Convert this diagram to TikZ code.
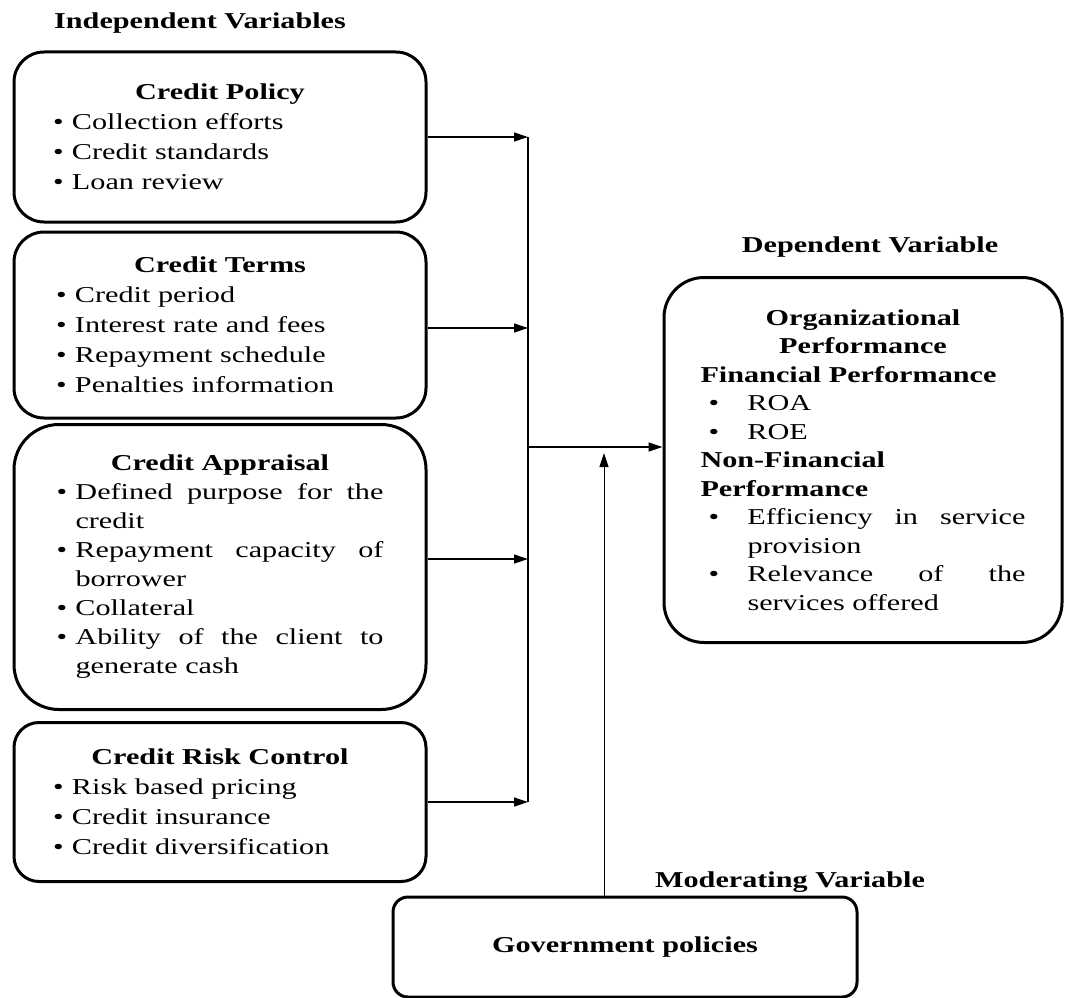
\documentclass[tikz,border=0pt]{standalone}
\usepackage{fontspec}
\setmainfont{Liberation Serif}[FakeStretch=1.33]
\usetikzlibrary{arrows.meta}
\hyphenpenalty=10000
\tolerance=10000
\newcommand{\bitem}[1]{\par\hangindent=19pt\hangafter=1\noindent\makebox[19pt][l]{\textbullet}#1\par}
\newcommand{\ditem}[1]{\par\hangindent=47pt\hangafter=1\noindent\makebox[47pt][l]{\hspace{8pt}\textbullet}#1\par}

\begin{document}
\begin{tikzpicture}[x=1pt, y=-1pt]
\tikzstyle{box}=[draw, line width=3pt, rounded corners=30pt, inner sep=0pt, font=\fontsize{22.7}{30}\selectfont]
\tikzstyle{list}=[box, minimum width=412pt, align=justify]
\tikzstyle{head}=[inner sep=0pt, font=\fontsize{22.7}{30}\selectfont\bfseries]
\tikzstyle{arr}=[line width=1.3pt, -{Triangle[length=14pt,width=9pt]}]
\useasboundingbox (0,0) rectangle (1065,998);
\node[head] (indep) at (200,23) {Independent Variables};
\node[head] (depv) at (870,247) {Dependent Variable};
\node[head] (modv) at (790,882) {Moderating Variable};
\node[list, minimum height=170pt, text width=334pt] (policy) at (220,137)
  {{\centering\bfseries Credit Policy\par}\bitem{Collection efforts}\bitem{Credit standards}\bitem{Loan review}};
\node[list, minimum height=186pt, text width=328pt] (terms) at (220,325)
  {{\centering\bfseries Credit Terms\par}\bitem{Credit period}\bitem{Interest rate and fees}\bitem{Repayment schedule}\bitem{Penalties information}};
\node[list, rounded corners=45pt, minimum height=285pt, text width=327pt, font=\fontsize{22.7}{29}\selectfont] (apprais) at (220,567)
  {{\centering\bfseries Credit Appraisal\par}\bitem{Defined purpose for the credit}\bitem{Repayment capacity of borrower}\bitem{Collateral}\bitem{Ability of the client to generate cash}};
\node[list, rounded corners=25pt, minimum height=159pt, text width=334pt] (riskctl) at (220,802)
  {{\centering\bfseries Credit Risk Control\par}\bitem{Risk based pricing}\bitem{Credit insurance}\bitem{Credit diversification}};
\node[box, rounded corners=40pt, minimum width=398pt, minimum height=365pt, text width=325pt, align=justify, font=\fontsize{22.7}{28.5}\selectfont] (perf) at (863,460)
  {{\centering\bfseries Organizational\\Performance\par}{\bfseries Financial Performance\par}\ditem{ROA}\ditem{ROE}{\bfseries Non-Financial\\Performance\par}\ditem{Efficiency in service provision}\ditem{Relevance of the services offered}};
\node[box, rounded corners=15pt, minimum width=464pt, minimum height=100pt, font=\fontsize{22.7}{30}\selectfont\bfseries] (gov) at (625,947) {Government policies};
\coordinate (join) at (528,447);
\coordinate (up) at (604,453);
\draw[arr] (policy.east) -- (policy.east -| join);
\draw[arr] ([yshift=-3pt]terms.east) -- ([yshift=-3pt]terms.east -| join);
\draw[arr] ([yshift=8pt]apprais.east) -- ([yshift=8pt]apprais.east -| join);
\draw[arr] (riskctl.east) -- (riskctl.east -| join);
\draw[line width=1.3pt] (policy.east -| join) -- (riskctl.east -| join);
\draw[arr] (join) -- (join -| perf.west);
\draw[arr, line width=1pt] (gov.north -| up) -- (up);
\end{tikzpicture}
\end{document}
